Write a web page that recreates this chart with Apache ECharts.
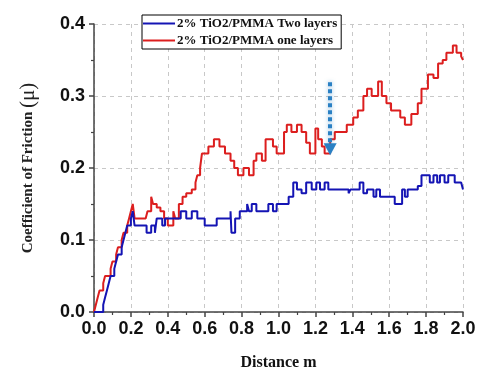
<!DOCTYPE html>
<html>
<head>
<meta charset="utf-8">
<script src="https://cdn.jsdelivr.net/npm/echarts@6/dist/echarts.min.js"></script>
<style>
  html, body { margin: 0; padding: 0; background: #fff; }
  #chart { width: 481px; height: 376px; }
</style>
</head>
<body>
<div id="chart"></div>
<script>
// Friction coefficient vs sliding distance for two coating builds
const seriesNames = ['2% TiO2/PMMA Two layers', '2% TiO2/PMMA one layers'];

const twoLayerDist = [0, 0.05, 0.06, 0.07, 0.08, 0.09, 0.11, 0.12, 0.13, 0.15, 0.16, 0.17, 0.18, 0.2, 0.21, 0.22,
  0.27, 0.285, 0.31, 0.33, 0.34, 0.37, 0.385, 0.47, 0.5, 0.53, 0.56, 0.6, 0.665, 0.74, 0.745, 0.765, 0.79,
  0.83, 0.84, 0.855, 0.88, 0.945, 0.97, 0.99, 1.055, 1.08, 1.1, 1.125, 1.15, 1.18, 1.205, 1.225, 1.25, 1.27,
  1.38, 1.39, 1.44, 1.46, 1.48, 1.515, 1.53, 1.55, 1.63, 1.67, 1.685, 1.7, 1.755, 1.775, 1.82, 1.84, 1.86,
  1.875, 1.9, 1.92, 1.955, 1.99, 2.0];
const twoLayerMu = [0, 0.01, 0.02, 0.03, 0.04, 0.05, 0.06, 0.07, 0.08, 0.09, 0.10, 0.11, 0.12, 0.13, 0.14, 0.12,
  0.12, 0.11, 0.12, 0.11, 0.13, 0.12, 0.13, 0.14, 0.13, 0.14, 0.13, 0.12, 0.13, 0.14, 0.11, 0.13, 0.14,
  0.15, 0.14, 0.15, 0.14, 0.15, 0.14, 0.15, 0.16, 0.18, 0.17, 0.165, 0.18, 0.17, 0.18, 0.17, 0.18, 0.17,
  0.165, 0.17, 0.18, 0.165, 0.17, 0.16, 0.17, 0.16, 0.15, 0.17, 0.16, 0.17, 0.175, 0.19, 0.18, 0.19, 0.18,
  0.19, 0.18, 0.19, 0.18, 0.18, 0.17];

const oneLayerDist = [0, 0.01, 0.02, 0.03, 0.05, 0.06, 0.09, 0.1, 0.12, 0.13, 0.15, 0.16, 0.18, 0.19, 0.2, 0.21,
  0.22, 0.28, 0.29, 0.31, 0.32, 0.34, 0.36, 0.38, 0.4, 0.43, 0.44, 0.46, 0.48, 0.5, 0.53, 0.55, 0.56, 0.575,
  0.585, 0.62, 0.65, 0.68, 0.71, 0.74, 0.76, 0.78, 0.81, 0.84, 0.865, 0.88, 0.91, 0.93, 0.97, 0.99, 1.03,
  1.045, 1.07, 1.1, 1.125, 1.15, 1.17, 1.2, 1.215, 1.235, 1.25, 1.28, 1.305, 1.37, 1.405, 1.43, 1.46, 1.48,
  1.505, 1.54, 1.56, 1.585, 1.61, 1.66, 1.685, 1.72, 1.755, 1.775, 1.81, 1.84, 1.865, 1.89, 1.91, 1.945,
  1.965, 1.99, 2.0];
const oneLayerMu = [0, 0.01, 0.02, 0.03, 0.04, 0.05, 0.06, 0.07, 0.08, 0.09, 0.10, 0.11, 0.12, 0.13, 0.14, 0.15,
  0.13, 0.13, 0.14, 0.16, 0.15, 0.145, 0.14, 0.13, 0.12, 0.14, 0.13, 0.15, 0.16, 0.165, 0.17, 0.18, 0.19, 0.20,
  0.22, 0.23, 0.24, 0.23, 0.22, 0.21, 0.20, 0.19, 0.20, 0.19, 0.21, 0.22, 0.21, 0.24, 0.23, 0.22, 0.25,
  0.26, 0.25, 0.26, 0.25, 0.235, 0.22, 0.255, 0.24, 0.23, 0.22, 0.24, 0.25, 0.26, 0.27, 0.28, 0.30, 0.31,
  0.30, 0.32, 0.30, 0.29, 0.28, 0.27, 0.26, 0.275, 0.29, 0.31, 0.33, 0.325, 0.345, 0.35, 0.36, 0.37,
  0.36, 0.355, 0.35];

// dotted annotation arrow pointing at the dip near 1.28 m
const arrowFrom = [1.28, 0.319];
const arrowTo = [1.28, 0.226];

const xTicks = ['0.0', '0.2', '0.4', '0.6', '0.8', '1.0', '1.2', '1.4', '1.6', '1.8', '2.0'];
const yTicks = ['0.0', '0.1', '0.2', '0.3', '0.4'];

const zip = (xs, ys) => xs.map((x, i) => [x, ys[i]]);

const axisColor = '#444';
const labelFont = { fontFamily: 'Liberation Sans, Arial', fontWeight: 'bold', fontSize: 18, color: '#111' };
const serif = 'Liberation Serif, Times New Roman';

const chart = echarts.init(document.getElementById('chart'), null, { renderer: 'canvas' });
chart.setOption({
  animation: false,
  backgroundColor: '#fff',
  grid: { left: 94, right: 18, top: 24, bottom: 61, containLabel: false },
  legend: {
    orient: 'vertical',
    left: 142, top: 15,
    backgroundColor: '#fff',
    borderColor: '#000', borderWidth: 1,
    padding: [2, 4, 2, 1],
    itemGap: 4, itemWidth: 32, itemHeight: 14,
    icon: 'path://M0,0 H32 V2 H0 Z',
    textStyle: { fontFamily: serif, fontWeight: 'bold', fontSize: 13, color: '#111', padding: [0, 0, 0, -3] },
    data: seriesNames
  },
  xAxis: {
    type: 'value', min: 0, max: 2, interval: 0.2,
    name: 'Distance m', nameLocation: 'middle', nameGap: 43,
    nameTextStyle: { fontFamily: serif, fontWeight: 'bold', fontSize: 16, color: '#111' },
    axisLine: { show: true, lineStyle: { color: axisColor, width: 1.5 } },
    axisTick: { show: true, length: 5, lineStyle: { color: axisColor, width: 1.5 } },
    minorTick: { show: true, splitNumber: 2, length: 3, lineStyle: { color: axisColor, width: 1.2 } },
    axisLabel: Object.assign({ margin: 8, formatter: v => xTicks[Math.round(v / 0.2)] }, labelFont),
    splitLine: { show: true, lineStyle: { color: '#c8c8c8', type: [4, 4], width: 1 } }
  },
  yAxis: {
    type: 'value', min: 0, max: 0.4, interval: 0.1,
    name: '{a|Coefficient of Friction }{b|(μ)}', nameLocation: 'middle', nameGap: 55,
    nameTextStyle: {
      rich: {
        a: { fontFamily: serif, fontWeight: 'bold', fontSize: 15, color: '#222' },
        b: { fontFamily: serif, fontSize: 21, color: '#222' }
      }
    },
    axisLine: { show: true, lineStyle: { color: axisColor, width: 1.5 } },
    axisTick: { show: true, length: 5, lineStyle: { color: axisColor, width: 1.5 } },
    minorTick: { show: true, splitNumber: 2, length: 3, lineStyle: { color: axisColor, width: 1.2 } },
    axisLabel: Object.assign({ margin: 9, formatter: v => yTicks[Math.round(v / 0.1)] }, labelFont),
    splitLine: {
      show: true,
      lineStyle: { color: '#c8c8c8', type: [4, 4], width: 1 }
    }
  },
  series: [
    {
      name: seriesNames[0], type: 'line', step: 'end', symbol: 'none',
      data: zip(twoLayerDist, twoLayerMu),
      lineStyle: { color: '#1414b4', width: 2 }, itemStyle: { color: '#1414b4' }, z: 3
    },
    {
      name: seriesNames[1], type: 'line', step: 'end', symbol: 'none',
      data: zip(oneLayerDist, oneLayerMu),
      lineStyle: { color: '#dc1e1e', width: 2 }, itemStyle: { color: '#dc1e1e' }, z: 2,
      markLine: {
        silent: true, animation: false,
        symbol: ['none', 'triangle'], symbolSize: [13, 12], symbolRotate: 180,
        label: { show: false },
        lineStyle: { color: '#2a80c4', width: 4, type: [4, 3], shadowBlur: 4, shadowColor: 'rgba(42,128,196,0.5)' },
        data: [[{ coord: arrowFrom }, { coord: arrowTo }]]
      }
    }
  ]
});
</script>
</body>
</html>
